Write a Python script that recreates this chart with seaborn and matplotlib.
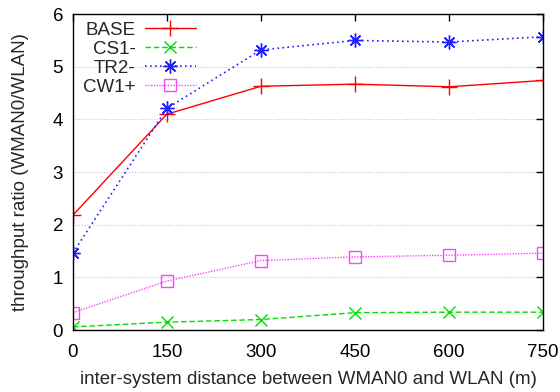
import matplotlib
matplotlib.use("Agg")
import matplotlib.pyplot as plt
import seaborn as sns
import pandas as pd

distance = [0, 150, 300, 450, 600, 750]
base = [2.18, 4.10, 4.63, 4.67, 4.62, 4.74]
cs1 = [0.06, 0.15, 0.20, 0.33, 0.34, 0.34]
tr2 = [1.46, 4.21, 5.32, 5.50, 5.47, 5.57]
cw1 = [0.33, 0.93, 1.32, 1.39, 1.42, 1.46]
series_names = ["BASE", "CS1-", "TR2-", "CW1+"]
xticks = [0, 150, 300, 450, 600, 750]
yticks = [0, 1, 2, 3, 4, 5, 6]

sns.set_style("white")
plt.rcParams['font.family'] = ['Liberation Sans', 'DejaVu Sans']

FS = 13.5
fig = plt.figure(figsize=(5.6, 3.92), dpi=100)
ax = fig.add_axes([0.130, 0.158, 0.840, 0.806])

styles = [
    dict(color="#ff0000", linestyle="-", marker="+", ms=11, mew=1.0, lw=1.0),
    dict(color="#00dd00", linestyle=(0, (4, 2)), marker="x", ms=8, mew=1.0, lw=1.0),
    dict(color="#2222ff", linestyle=(0, (1, 2)), marker=(8, 2, 0), ms=10, mew=1.0, lw=1.2),
    dict(color="#ff44ff", linestyle=(0, (1, 1)), marker="s", ms=8, mew=1.0, lw=1.0, mfc="none"),
]
for name, vals, st in zip(series_names, [base, cs1, tr2, cw1], styles):
    df = pd.DataFrame({"x": distance, "y": vals})
    sns.lineplot(data=df, x="x", y="y", ax=ax, label=name,
                 color=st["color"], linestyle=st["linestyle"], marker=st["marker"],
                 markersize=st["ms"], markeredgewidth=st["mew"], linewidth=st["lw"],
                 markerfacecolor=st.get("mfc", st["color"]), markeredgecolor=st["color"])

ax.set_xlim(0, 750)
ax.set_ylim(0, 6)
ax.set_xticks(xticks)
ax.set_yticks(yticks)
ax.yaxis.grid(True, color="#c8c8c8", linestyle=(0, (1, 1.5)), linewidth=0.8)
ax.xaxis.grid(False)
ax.tick_params(direction="in", length=5, width=1, top=True, right=True,
               labelsize=FS, colors="black")
ax.tick_params(axis="x", pad=10)
ax.tick_params(axis="y", pad=7)
for s in ax.spines.values():
    s.set_color("black")
    s.set_linewidth(1.0)
ax.set_xlabel("inter-system distance between WMAN0 and WLAN (m)", fontsize=FS, labelpad=7)
ax.set_ylabel("throughput ratio (WMAN0/WLAN)", fontsize=FS, labelpad=17)

leg = ax.legend(loc="upper left", frameon=False, markerfirst=False, fontsize=FS,
                handlelength=2.7, labelspacing=0.1, borderaxespad=0.0, borderpad=0.4,
                handletextpad=0.5, bbox_to_anchor=(0.006, 1.0))
for t in leg.get_texts():
    t.set_ha("right")
leg._legend_box.align = "right"

fig.savefig("out.png", dpi=100)
